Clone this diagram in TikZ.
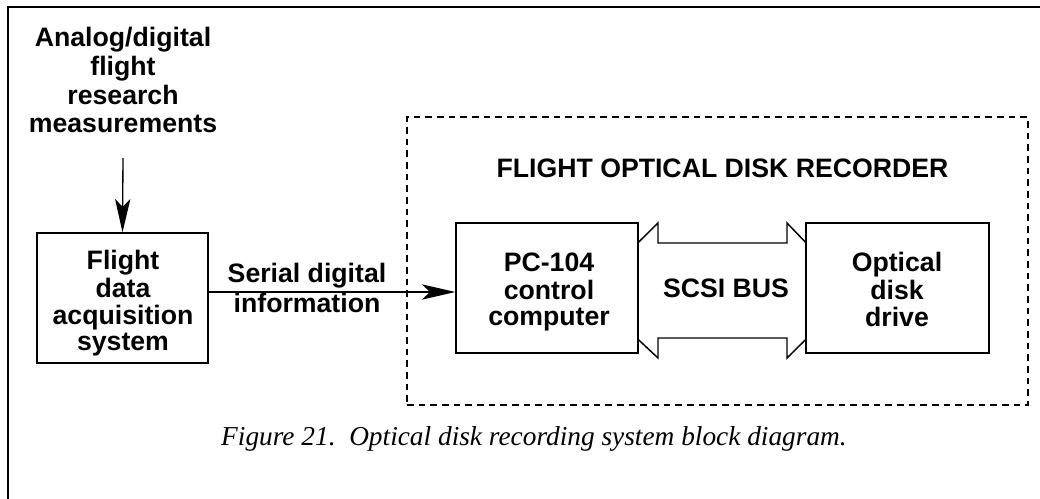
\documentclass[tikz,border=0pt]{standalone}
\usepackage{fontspec}
\newfontfamily\hv{Liberation Sans}
\newfontfamily\tms{Liberation Serif}
\usetikzlibrary{arrows.meta}
\newcommand{\wt}[2]{\fontsize{20pt}{#1}\selectfont\begin{tabular}[t]{@{}c@{}}#2\end{tabular}}
\begin{document}
\begin{tikzpicture}[x=0.75pt,y=-0.75pt,
  boxnode/.style={draw, line width=1.1pt, inner sep=0pt, minimum height=97.5pt},
  txt/.style={inner sep=0pt, anchor=base, font=\hv\bfseries},
  arr/.style={line width=1pt, -{Stealth[length=25pt,width=11.5pt,inset=6pt]}},
  bus/.style={line width=1.1pt, line join=miter}]
\useasboundingbox (0,0) rectangle (1040,499);
% outer frame (cropped)
\draw[line width=1.3pt] (8,499) -- (8,7) -- (1040,7);
% dashed recorder box
\node[draw, dash pattern=on 5pt off 3.75pt, line width=1.1pt, inner sep=0pt,
  minimum width=465.75pt, minimum height=216pt] (fodr) at (717.5,261) {};
% boxes
\node[boxnode, minimum width=128.25pt] (fdas) at (122.5,298) {};
\node[boxnode, minimum width=136.5pt] (pc) at (547,288) {};
\node[boxnode, minimum width=137.25pt] (opt) at (897.5,288) {};
% texts
\node[txt] (meas) at (123,47) {\wt{21.5pt}{Analog/digital\\flight\\research\\measurements}};
\node[txt] (fdasT) at (123,270) {\wt{19.6pt}{Flight\\data\\acquisition\\system}};
\node[txt] (serial) at (307,282) {\wt{23.25pt}{Serial digital\\information}};
\node[txt] (title) at (722.5,178) {\wt{20pt}{FLIGHT OPTICAL DISK RECORDER}};
\node[txt] (pcT) at (549,272) {\wt{19.9pt}{PC-104\\control\\computer}};
\node[txt] (busT) at (726,298) {\wt{20pt}{SCSI BUS}};
\node[txt] (optT) at (897,272) {\wt{19.9pt}{Optical\\disk\\drive}};
\node[inner sep=0pt, anchor=base] (cap) at (534,445)
  {\tms\itshape\fontsize{20.5pt}{24pt}\selectfont Figure 21.~~Optical disk recording system block diagram.};
% connectors
\coordinate (mtail) at (123,158);
\draw[arr] (mtail) -- (fdas.north);
\draw[arr] (fdas.east |- 0,292) -- (pc.west |- 0,292);
% SCSI bus double outline arrow
\draw[bus] (pc.east |- 0,242) -- (658,223) -- (658,243) -- (787,243) -- (787,223) -- (opt.west |- 0,242);
\draw[bus] (pc.east |- 0,340) -- (658,358) -- (658,338) -- (787,338) -- (787,358) -- (opt.west |- 0,340);
\end{tikzpicture}
\end{document}
